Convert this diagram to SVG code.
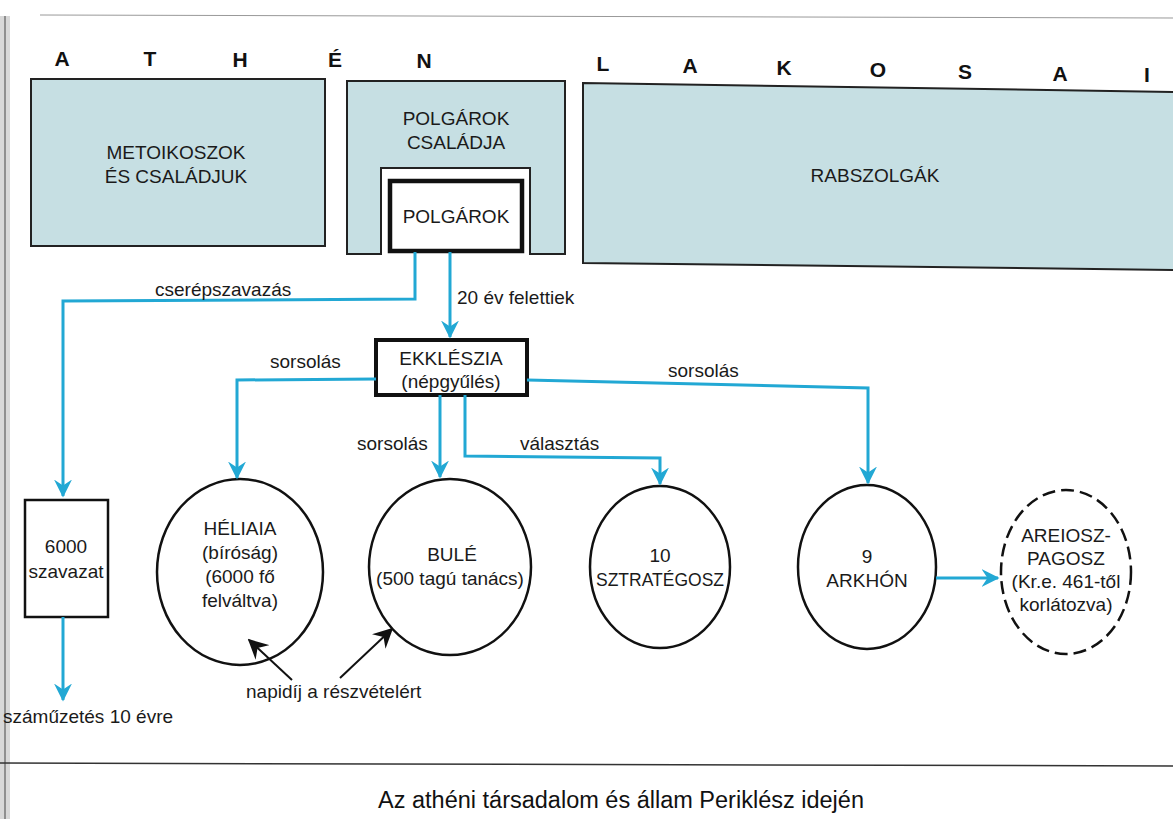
<svg xmlns="http://www.w3.org/2000/svg" width="1173" height="819" viewBox="0 0 1173 819">
<defs>
<style>
.t{font-family:"Liberation Sans",Arial,sans-serif;font-size:19px;fill:#1a1a1a;text-anchor:middle}
.l{font-family:"Liberation Sans",Arial,sans-serif;font-size:19px;fill:#1a1a1a}
.big{font-family:"Liberation Sans",Arial,sans-serif;font-size:21px;font-weight:bold;fill:#111;text-anchor:middle}
.box{fill:#c6dfe3;stroke:#222;stroke-width:2}
.c{fill:none;stroke:#22a8d4;stroke-width:3}
.k{fill:none;stroke:#111;stroke-width:2}
.circ{fill:#fff;stroke:#111;stroke-width:2.5}
</style>
<marker id="ta" viewBox="0 0 12 12" refX="11" refY="6" markerWidth="6" markerHeight="6" markerUnits="strokeWidth" orient="auto">
<path d="M0,0 L12,6 L0,12 L4,6 z" fill="#22a8d4"/>
</marker>
<marker id="ka" viewBox="0 0 12 12" refX="11" refY="6" markerWidth="10" markerHeight="10" markerUnits="strokeWidth" orient="auto">
<path d="M0,0 L12,6 L0,12 L4,6 z" fill="#111"/>
</marker>
</defs>
<rect width="1173" height="819" fill="#fff"/>
<rect x="0" y="16" width="10" height="803" fill="#d8d8d8"/>
<line x1="5" y1="16" x2="5" y2="819" stroke="#777" stroke-width="1.5"/>
<line x1="40" y1="15" x2="1173" y2="18" stroke="#999" stroke-width="1"/>
<line x1="0" y1="763" x2="1173" y2="766" stroke="#333" stroke-width="1.5"/>

<g id="title-letters">
<text class="big" x="62" y="66">A</text>
<text class="big" x="150" y="66">T</text>
<text class="big" x="240" y="67">H</text>
<text class="big" x="335" y="67">É</text>
<text class="big" x="424" y="68">N</text>
<text class="big" x="603" y="71">L</text>
<text class="big" x="690" y="73">A</text>
<text class="big" x="784" y="75">K</text>
<text class="big" x="878" y="77">O</text>
<text class="big" x="965" y="79">S</text>
<text class="big" x="1060" y="81">A</text>
<text class="big" x="1147" y="82">I</text>
</g>

<g id="metoikoszok">
<rect class="box" x="31" y="79" width="294" height="167"/>
<text class="t" x="176" y="159">METOIKOSZOK</text>
<text class="t" x="176" y="183">ÉS CSALÁDJUK</text>
</g>

<g id="polgarok-csaladja">
<path class="box" d="M347,81 L565,81 L565,254 L530,254 L530,168 L381,168 L381,254 L347,254 Z"/>
<text class="t" x="456" y="125">POLGÁROK</text>
<text class="t" x="456" y="149">CSALÁDJA</text>
</g>

<g id="polgarok">
<rect x="390" y="181" width="132" height="70" fill="#fff" stroke="#111" stroke-width="4.5"/>
<text class="t" x="456" y="223">POLGÁROK</text>
</g>

<g id="rabszolgak">
<path class="box" d="M583,83 L1180,92 L1180,270 L583,263 Z"/>
<text class="t" x="875" y="182">RABSZOLGÁK</text>
</g>

<g id="ekklezia">
<rect x="376" y="340" width="151" height="55" fill="#fff" stroke="#111" stroke-width="4"/>
<text class="t" x="451" y="365">EKKLÉSZIA</text>
<text class="t" x="451" y="388">(népgyűlés)</text>
</g>

<g id="szavazat">
<rect x="25" y="500" width="83" height="117" fill="#fff" stroke="#111" stroke-width="2.5"/>
<text class="t" x="66" y="553">6000</text>
<text class="t" x="66" y="578">szavazat</text>
</g>

<g id="heliaia">
<ellipse class="circ" cx="240" cy="572" rx="83" ry="93"/>
<text class="t" x="240" y="535">HÉLIAIA</text>
<text class="t" x="240" y="559">(bíróság)</text>
<text class="t" x="240" y="583">(6000 fő</text>
<text class="t" x="240" y="607">felváltva)</text>
</g>

<g id="bule">
<ellipse class="circ" cx="450" cy="567" rx="81" ry="88"/>
<text class="t" x="452" y="561">BULÉ</text>
<text class="t" x="450" y="585">(500 tagú tanács)</text>
</g>

<g id="sztrategosz">
<ellipse class="circ" cx="660" cy="567" rx="70" ry="81"/>
<text class="t" x="660" y="562">10</text>
<text class="t" x="660" y="586" textLength="128" lengthAdjust="spacingAndGlyphs">SZTRATÉGOSZ</text>
</g>

<g id="arkhon">
<ellipse class="circ" cx="867" cy="567" rx="69" ry="82"/>
<text class="t" x="867" y="563">9</text>
<text class="t" x="867" y="587">ARKHÓN</text>
</g>

<g id="areioszpagosz">
<ellipse cx="1066" cy="572" rx="65" ry="82" fill="#fff" stroke="#111" stroke-width="2.5" stroke-dasharray="13,6"/>
<text class="t" x="1066" y="542">AREIOSZ-</text>
<text class="t" x="1066" y="565">PAGOSZ</text>
<text class="t" x="1066" y="588">(Kr.e. 461-től</text>
<text class="t" x="1066" y="611">korlátozva)</text>
</g>

<g id="connectors">
<path class="c" d="M415,252 L415,299 L63,301 L63,496" marker-end="url(#ta)"/>
<path class="c" d="M450,252 L450,337" marker-end="url(#ta)"/>
<path class="c" d="M376,379 L237,380 L237,478" marker-end="url(#ta)"/>
<path class="c" d="M440,395 L440,477" marker-end="url(#ta)"/>
<path class="c" d="M465,395 L465,456 L660,458 L660,484" marker-end="url(#ta)"/>
<path class="c" d="M527,380 L868,388 L868,483" marker-end="url(#ta)"/>
<path class="c" d="M936,578 L998,578" marker-end="url(#ta)"/>
<path class="c" d="M63,617 L63,700" marker-end="url(#ta)"/>
<path class="k" d="M292,680 L249,640" marker-end="url(#ka)"/>
<path class="k" d="M340,678 L392,629" marker-end="url(#ka)"/>
</g>

<g id="labels">
<text class="l" x="155" y="296">cserépszavazás</text>
<text class="l" x="457" y="304">20 év felettiek</text>
<text class="l" x="270" y="368">sorsolás</text>
<text class="l" x="357" y="450">sorsolás</text>
<text class="l" x="520" y="450">választás</text>
<text class="l" x="668" y="377">sorsolás</text>
<text class="l" x="3" y="723">száműzetés 10 évre</text>
<text class="l" x="246" y="698">napidíj a részvételért</text>
</g>

<text x="621" y="808" font-family="'Liberation Sans',Arial,sans-serif" font-size="23.5" fill="#111" text-anchor="middle">Az athéni társadalom és állam Periklész idején</text>
</svg>
